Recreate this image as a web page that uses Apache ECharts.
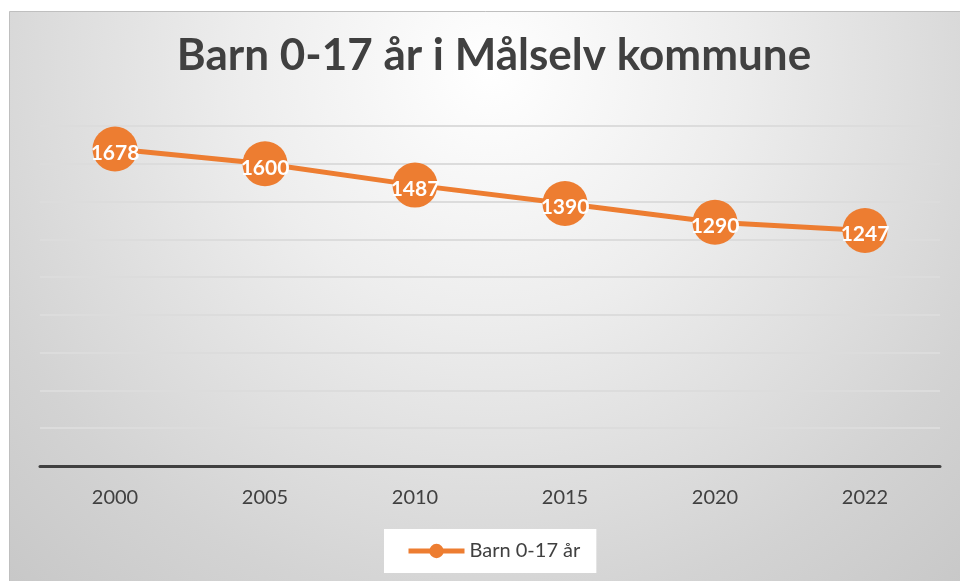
<!DOCTYPE html>
<html>
<head>
<meta charset="utf-8">
<script src="https://cdn.jsdelivr.net/npm/echarts@6/dist/echarts.min.js"></script>
<style>
html,body{margin:0;padding:0;background:#ffffff;}
#chart{width:960px;height:581px;}
</style>
</head>
<body>
<div id="chart"></div>
<script>
const titleText = "Barn 0-17 år i Målselv kommune";
const seriesName = "Barn 0-17 år";
const categories = ["2000", "2005", "2010", "2015", "2020", "2022"];
const values = [1678, 1600, 1487, 1390, 1290, 1247];

const chart = echarts.init(document.getElementById('chart'), null, {renderer: 'canvas'});
const orange = '#ED7D31';
const textColor = '#404040';
const font = 'Lato, "Open Sans", sans-serif';

chart.setOption({
  animation: false,
  graphic: [{
    type: 'rect',
    z: -10,
    silent: true,
    shape: {x: 9.5, y: 11.5, width: 960, height: 580},
    style: {
      fill: {
        type: 'radial', x: 0.5, y: 0.1, r: 1.3,
        colorStops: [
          {offset: 0, color: '#ffffff'},
          {offset: 0.33, color: '#ededed'},
          {offset: 0.72, color: '#d3d3d3'},
          {offset: 1, color: '#c4c4c4'}
        ]
      },
      stroke: '#bfbfbf',
      lineWidth: 1
    }
  }],
  title: {
    text: titleText,
    left: 489,
    top: 29,
    textAlign: 'center',
    textStyle: {fontFamily: font, fontWeight: 'bold', fontSize: 44, color: textColor}
  },
  legend: {
    data: [seriesName],
    left: 384,
    top: 529,
    backgroundColor: '#ffffff',
    padding: [12, 16, 12, 22],
    itemWidth: 56,
    itemHeight: 18,
    itemGap: 5,
    lineStyle: {width: 5},
    textStyle: {fontFamily: font, fontSize: 20, color: textColor}
  },
  grid: {left: 40, right: 20, top: 126, bottom: 115, containLabel: false},
  xAxis: {
    type: 'category',
    data: categories,
    boundaryGap: true,
    axisLine: {lineStyle: {color: '#404040', width: 3}},
    axisTick: {show: false},
    axisLabel: {fontFamily: font, fontSize: 20, color: textColor, margin: 22}
  },
  yAxis: {
    type: 'value',
    min: 0,
    max: 1800,
    interval: 200,
    axisLabel: {show: false},
    axisLine: {show: false},
    axisTick: {show: false},
    splitLine: {lineStyle: {color: '#dcdcdc', width: 2}}
  },
  series: [{
    name: seriesName,
    type: 'line',
    data: values,
    symbol: 'circle',
    symbolSize: 45,
    itemStyle: {color: orange},
    lineStyle: {color: orange, width: 5},
    label: {
      show: true,
      position: 'inside',
      offset: [0, 4],
      fontFamily: font,
      fontWeight: 'bold',
      fontSize: 21,
      color: '#ffffff'
    }
  }]
});
</script>
</body>
</html>
